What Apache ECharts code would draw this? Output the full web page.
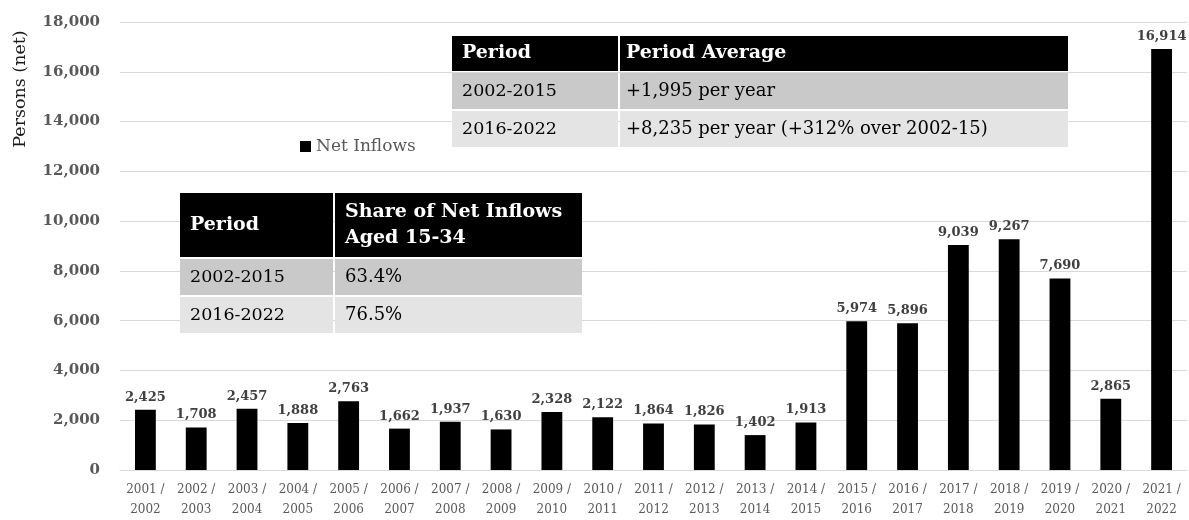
<!DOCTYPE html>
<html><head><meta charset="utf-8">
<script src="https://cdn.jsdelivr.net/npm/echarts@6/dist/echarts.min.js"></script>
<style>html,body{margin:0;padding:0;background:#fff}#c{width:1189px;height:520px}</style>
</head><body><div id="c"></div>
<script>
const categories = ['2001 /\n2002','2002 /\n2003','2003 /\n2004','2004 /\n2005','2005 /\n2006','2006 /\n2007','2007 /\n2008','2008 /\n2009','2009 /\n2010','2010 /\n2011','2011 /\n2012','2012 /\n2013','2013 /\n2014','2014 /\n2015','2015 /\n2016','2016 /\n2017','2017 /\n2018','2018 /\n2019','2019 /\n2020','2020 /\n2021','2021 /\n2022'];
const netInflows = [2425,1708,2457,1888,2763,1662,1937,1630,2328,2122,1864,1826,1402,1913,5974,5896,9039,9267,7690,2865,16914];
const seriesName = 'Net Inflows';
const yAxisTitle = 'Persons (net)';
const table1Header = ['Period','Period Average'];
const table1Rows = [['2002-2015','+1,995 per year'],['2016-2022','+8,235 per year (+312% over 2002-15)']];
const table2Header = ['Period','Share of Net Inflows\nAged 15-34'];
const table2Rows = [['2002-2015','63.4%'],['2016-2022','76.5%']];

const FONT = 'DejaVu Serif';

function table(x, y, w, col1w, headH, rowH, header, rows, pad2) {
  const els = [];
  const gap = 2;
  els.push({type:'rect', shape:{x:x, y:y, width:col1w, height:headH}, style:{fill:'#000'}, z:10});
  els.push({type:'rect', shape:{x:x+col1w+gap, y:y, width:w-col1w-gap, height:headH}, style:{fill:'#000'}, z:10});
  els.push({type:'text', x:x+10, y:y+headH/2, style:{text:header[0], fill:'#fff', font:'bold 19px "'+FONT+'"', textVerticalAlign:'middle', lineHeight:25}, z:11});
  els.push({type:'text', x:x+col1w+gap+pad2, y:y+headH/2, style:{text:header[1], fill:'#fff', font:'bold 19px "'+FONT+'"', textVerticalAlign:'middle', lineHeight:26}, z:11});
  const fills = ['#c9c9c9','#e4e4e4'];
  rows.forEach((r,i)=>{
    const ry = y + headH + gap + i*(rowH+gap);
    els.push({type:'rect', shape:{x:x, y:ry, width:col1w, height:rowH}, style:{fill:fills[i]}, z:10});
    els.push({type:'rect', shape:{x:x+col1w+gap, y:ry, width:w-col1w-gap, height:rowH}, style:{fill:fills[i]}, z:10});
    els.push({type:'text', x:x+10, y:ry+rowH/2, style:{text:r[0], fill:'#000', font:'17.5px "'+FONT+'"', textVerticalAlign:'middle'}, z:11});
    els.push({type:'text', x:x+col1w+gap+pad2, y:ry+rowH/2, style:{text:r[1], fill:'#000', font:'18px "'+FONT+'"', textVerticalAlign:'middle'}, z:11});
  });
  return els;
}

const chart = echarts.init(document.getElementById('c'), null, {renderer:'canvas'});
chart.setOption({
  animation:false,
  backgroundColor:'#fff',
  textStyle:{fontFamily:FONT},
  grid:{left:120, right:2, top:22, bottom:48},
  legend:{data:[seriesName], left:295, top:133, icon:'rect', itemWidth:11, itemHeight:11, itemGap:4,
    textStyle:{fontFamily:FONT, fontSize:17, color:'#595959'}},
  xAxis:{type:'category', data:categories,
    axisLine:{lineStyle:{color:'#d9d9d9'}}, axisTick:{show:false},
    axisLabel:{interval:0, fontFamily:FONT, fontSize:12, color:'#595959', lineHeight:20, margin:10}},
  yAxis:{type:'value', min:0, max:18000, interval:2000,
    axisLine:{show:false}, axisTick:{show:false},
    splitLine:{lineStyle:{color:'#d9d9d9'}},
    axisLabel:{fontFamily:FONT, fontWeight:'bold', fontSize:15, color:'#595959', margin:20,
      formatter:v=>v.toLocaleString('en-US')}},
  series:[{name:seriesName, type:'bar', data:netInflows, barWidth:'41%',
    itemStyle:{color:'#000'},
    label:{show:true, position:'top', distance:6, fontFamily:FONT, fontWeight:'bold', fontSize:13, color:'#404040',
      formatter:p=>p.value.toLocaleString('en-US')}}],
  graphic:[
    {type:'text', x:20, y:89, rotation:Math.PI/2, style:{text:yAxisTitle, fill:'#1a1a1a', font:'17.5px "'+FONT+'"', textAlign:'center', textVerticalAlign:'middle'}},
    ...table(452, 36, 616, 166, 35, 36, table1Header, table1Rows, 6),
    ...table(180, 193, 402, 153, 64, 36, table2Header, table2Rows, 10)
  ]
});
</script></body></html>
